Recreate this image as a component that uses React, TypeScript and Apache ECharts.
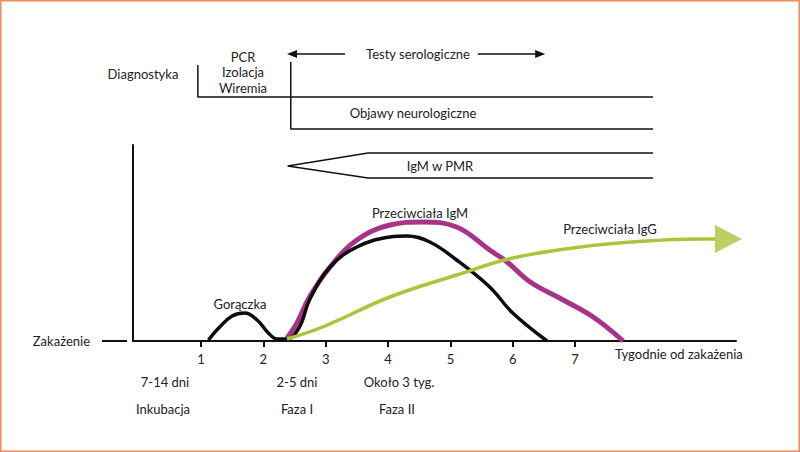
import React, { useEffect, useRef } from "react";
import * as echarts from "echarts";

// Weeks since infection (tick labels)
const weekTicks: number[] = [1, 2, 3, 4, 5, 6, 7];

// Fever + viremia curve (black)
const viremia: [number, number][] = [
  [1.12, 1], [1.3, 14], [1.5, 25], [1.7, 28], [1.9, 21], [2.08, 8], [2.22, 2], [2.38, 2],
  [2.58, 14], [2.74, 41], [3.07, 74], [3.5, 94], [4.03, 104], [4.3, 105], [4.67, 99],
  [5.1, 81], [5.63, 54], [6.0, 28], [6.55, 0],
];

// IgM antibodies (magenta)
const igm: [number, number][] = [
  [2.38, 3], [2.54, 18], [2.74, 44], [3.07, 74], [3.5, 101], [4.03, 116], [4.56, 119],
  [5.1, 114], [5.63, 91], [5.91, 79], [6.28, 59], [6.81, 41], [7.29, 24], [7.77, 0],
];

// IgG antibodies (green)
const igg: [number, number][] = [
  [2.38, 2], [2.95, 14], [4.03, 44], [5.1, 66], [6.0, 83], [7.08, 94], [8.15, 100],
  [8.96, 102], [9.25, 102],
];
const iggArrow: [number, number][] = [[9.46, 102]];

// Diagnostic schematic (upper panel, in panel units)
const diagBracket: [number, number][] = [[0.95, 387], [0.95, 355], [8.25, 355]];
const neuroBracket: [number, number][] = [[2.44, 390], [2.44, 323], [8.25, 323]];
const pmrShape: [number, number][] = [[8.25, 299], [3.68, 299], [2.39, 286], [3.68, 274], [8.25, 274]];
const seroArrowLeft: [number, number][] = [[3.31, 398], [2.46, 398]];
const seroArrowRight: [number, number][] = [[5.44, 398], [6.44, 398]];

const FONT = "Lato, 'Open Sans', sans-serif";
const TXT = "#222";

export default function App() {
  const ref = useRef<HTMLDivElement>(null);

  useEffect(() => {
    if (!ref.current) return;
    const chart = echarts.init(ref.current, undefined, { renderer: "svg" });

    const t = (text: string, x: number, y: number, align: string = "center", extra: any = {}) => ({
      type: "text",
      x,
      y,
      silent: true,
      style: {
        text,
        fill: TXT,
        font: `13px ${FONT}`,
        align,
        verticalAlign: "middle",
        ...extra,
      },
    });

    const blackThin = { color: "#111", width: 1.5 };

    const option: any = {
      animation: false,
      backgroundColor: "#fff",
      grid: [
        { left: 133, right: 64, top: 145, bottom: 111 },
        { left: 133, right: 64, top: 0, bottom: 0 },
      ],
      xAxis: [
        {
          type: "value",
          gridIndex: 0,
          min: -0.09,
          max: 9.58,
          axisLine: { show: true, onZero: false, lineStyle: { color: "#111", width: 2 } },
          axisTick: { show: true, customValues: weekTicks, length: 6, lineStyle: { color: "#111", width: 2 } },
          axisLabel: {
            show: true,
            customValues: weekTicks,
            color: TXT,
            fontSize: 13,
            fontFamily: FONT,
            margin: 11,
          },
          splitLine: { show: false },
        },
        {
          type: "value",
          gridIndex: 1,
          min: -0.09,
          max: 9.58,
          show: false,
        },
      ],
      yAxis: [
        {
          type: "value",
          gridIndex: 0,
          min: 0,
          max: 196,
          axisLine: { show: true, onZero: false, lineStyle: { color: "#111", width: 2 } },
          axisTick: { show: false },
          axisLabel: { show: false },
          splitLine: { show: false },
        },
        {
          type: "value",
          gridIndex: 1,
          min: 0,
          max: 452,
          show: false,
        },
      ],
      series: [
        {
          type: "line",
          name: "Wiremia",
          data: viremia,
          smooth: 0.4,
          symbol: "none",
          lineStyle: { color: "#0d0d0d", width: 3.5 },
          z: 3,
        },
        {
          type: "line",
          name: "Przeciwciała IgM",
          data: igm,
          smooth: 0.4,
          symbol: "none",
          lineStyle: { color: "#a8348a", width: 5 },
          z: 2,
        },
        {
          type: "line",
          name: "Przeciwciała IgG",
          data: igg,
          smooth: 0.4,
          symbol: "none",
          lineStyle: { color: "#a9c63a", width: 3.5 },
          z: 4,
        },
        {
          type: "scatter",
          data: iggArrow,
          symbol: "triangle",
          symbolRotate: -90,
          symbolSize: [28, 27],
          itemStyle: { color: "#a9c63a" },
          clip: false,
          z: 4,
        },
        {
          type: "line",
          xAxisIndex: 1,
          yAxisIndex: 1,
          data: diagBracket,
          symbol: "none",
          lineStyle: blackThin,
        },
        {
          type: "line",
          xAxisIndex: 1,
          yAxisIndex: 1,
          data: neuroBracket,
          symbol: "none",
          lineStyle: blackThin,
        },
        {
          type: "line",
          xAxisIndex: 1,
          yAxisIndex: 1,
          data: pmrShape,
          symbol: "none",
          lineStyle: blackThin,
          markLine: {
            silent: true,
            symbol: ["none", "triangle"],
            symbolSize: [8, 10],
            label: { show: false },
            lineStyle: { color: "#111", width: 1.5, type: "solid" },
            data: [
              [{ coord: seroArrowLeft[0] }, { coord: seroArrowLeft[1] }],
              [{ coord: seroArrowRight[0] }, { coord: seroArrowRight[1] }],
            ],
          },
        },
      ],
      graphic: [
        {
          type: "rect",
          silent: true,
          shape: { x: 0.75, y: 0.75, width: 798.5, height: 450.5 },
          style: { fill: "none", stroke: "#ee8a5e", lineWidth: 1.5 },
        },
        {
          type: "line",
          silent: true,
          shape: { x1: 102, y1: 341, x2: 127, y2: 341 },
          style: { stroke: "#111", lineWidth: 2 },
        },
        t("Diagnostyka", 143, 74),
        t("PCR\nIzolacja\nWiremia", 243, 72, "center", { lineHeight: 15.5 }),
        t("Testy serologiczne", 418, 54),
        t("Objawy neurologiczne", 413, 113),
        t("IgM w PMR", 440, 166),
        t("Przeciwciała IgM", 420, 213),
        t("Przeciwciała IgG", 610, 229),
        t("Gorączka", 240, 304),
        t("Zakażenie", 90, 341, "right"),
        t("Tygodnie od zakażenia", 615, 354, "left"),
        t("7-14 dni", 165, 382),
        t("Inkubacja", 163, 409),
        t("2-5 dni", 297, 382),
        t("Faza I", 297, 409),
        t("Około 3 tyg.", 399, 382),
        t("Faza II", 397, 409),
      ],
    };

    chart.setOption(option);
    return () => chart.dispose();
  }, []);

  return (
    <div
      ref={ref}
      style={{ position: "fixed", left: 0, top: 0, width: 800, height: 452, background: "#fff" }}
    />
  );
}
